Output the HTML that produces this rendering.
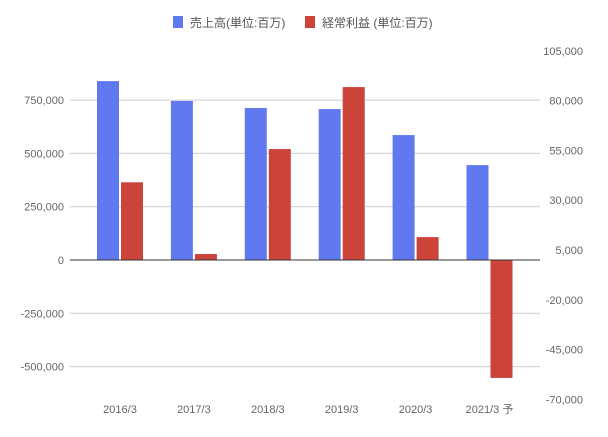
<!DOCTYPE html>
<html><head><meta charset="utf-8"><style>
body{margin:0;background:#fff;}
svg{display:block;font-family:"Liberation Sans","Noto Sans CJK JP",sans-serif;}
</style></head><body>
<svg id="chart" width="608" height="437">
<g>
<rect x="173" y="16" width="10" height="12" fill="#6079f0"/>
<text x="190" y="27" font-size="12" fill="#555">売上高(単位:百万)</text>
<rect x="305" y="16" width="10" height="12" fill="#cc4339"/>
<text x="322" y="27" font-size="12" fill="#555">経常利益 (単位:百万)</text>
</g>
<g id="grid"></g><g id="bars"></g><g id="axes"></g>
</svg>
<script>
const categories=["2016/3","2017/3","2018/3","2019/3","2020/3","2021/3 予"];
const sales=[839000,746000,713000,708000,586000,445000];
const profit=[39000,3000,55700,86800,11500,-59200];
const leftTicks=[750000,500000,250000,0,-250000,-500000];
const rightTicks=[105000,80000,55000,30000,5000,-20000,-45000,-70000];
const ns="http://www.w3.org/2000/svg";
const zeroY=260;
const yL=v=>zeroY-v/250000*53.3;
const yR=v=>zeroY-v/25000*49.8;
const xC=i=>120+i*73.9;
function mk(tag,attrs,parent,text){const e=document.createElementNS(ns,tag);for(const k in attrs)e.setAttribute(k,attrs[k]);if(text!==undefined)e.textContent=text;parent.appendChild(e);return e;}
const grid=document.getElementById('grid'),bars=document.getElementById('bars'),axes=document.getElementById('axes');
const fmt=v=>v.toLocaleString('en-US');
leftTicks.forEach(v=>{
 if(v!==0){const l=mk('line',{x1:70,x2:540,y1:yL(v),y2:yL(v),stroke:'#ccc','stroke-width':1},grid);
 
 }
 const t=mk('text',{x:64,y:yL(v)+4,'font-size':11,fill:'#666','text-anchor':'end'},axes,fmt(v));
 
 
});
rightTicks.forEach(v=>{
 const t=mk('text',{x:583,y:yR(v)+4,'font-size':11,fill:'#666','text-anchor':'end'},axes,fmt(v));
 
 
});
categories.forEach((c,i)=>{
 const cx=xC(i);
 const ys=yL(sales[i]);
 const b=mk('rect',{x:cx-23,y:Math.min(ys,zeroY),width:22,height:Math.abs(zeroY-ys),fill:'#6079f0'},bars);
 
 
 const yp=yR(profit[i]);
 const r=mk('rect',{x:cx+1,y:Math.min(yp,zeroY),width:22,height:Math.abs(zeroY-yp),fill:'#cc4339'},bars);
 
 
 const t=mk('text',{x:cx,y:413,'font-size':11,fill:'#666','text-anchor':'middle'},axes,c);
 
 
});
const z=mk('line',{x1:70,x2:540,y1:zeroY,y2:zeroY,stroke:'#333','stroke-width':1},axes);


</script>
</body></html>
